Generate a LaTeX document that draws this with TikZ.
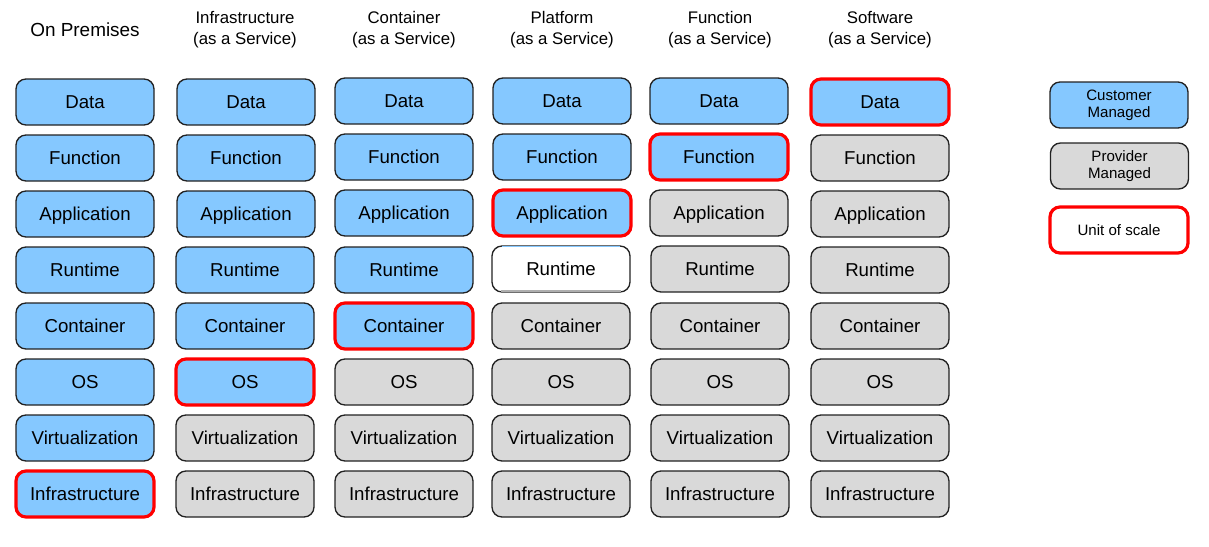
\documentclass[tikz,border=0pt]{standalone}
\usepackage{fontspec}
\setmainfont{Liberation Sans}
\definecolor{cust}{HTML}{85C8FF}
\definecolor{prov}{HTML}{D9D9D9}
\definecolor{edge}{HTML}{222222}
\definecolor{scalered}{HTML}{FF0000}
\tikzset{
  box/.style={draw=edge, line width=1pt, rounded corners=7.5pt, minimum width=103.5pt, minimum height=34.5pt, inner sep=0pt, text height=1.0em, text depth=0.05em, font=\fontsize{14}{16}\selectfont},
  cbox/.style={box, fill=cust},
  pbox/.style={box, fill=prov},
  wbox/.style={box, fill=white},
  unit/.style={draw=scalered, line width=2.4pt},
  title/.style={align=center, font=\fontsize{12.6}{16.2}\selectfont},
  legend/.style={draw=edge, line width=1pt, rounded corners=7.5pt, minimum width=103.5pt, minimum height=34.5pt, inner sep=0pt, align=center, font=\fontsize{11.3}{12.8}\selectfont}
}
\begin{document}
\begin{tikzpicture}[x=0.75pt,y=-0.75pt]
\useasboundingbox (0,0) rectangle (1209,546);
% titles
\node[title, font=\fontsize{14.2}{16}\selectfont] (t1) at (85,30) {On Premises};
\node[title] (t2) at (245,29.5) {Infrastructure\\(as a Service)};
\node[title] (t3) at (404,29.5) {Container\\(as a Service)};
\node[title] (t4) at (562,29.5) {Platform\\(as a Service)};
\node[title] (t5) at (720,29.5) {Function\\(as a Service)};
\node[title] (t6) at (880,29.5) {Software\\(as a Service)};
% column 1: On Premises
\node[cbox] (a1) at (85,102) {Data};
\node[cbox] (a2) at (85,158) {Function};
\node[cbox] (a3) at (85,214) {Application};
\node[cbox] (a4) at (85,270) {Runtime};
\node[cbox] (a5) at (85,326) {Container};
\node[cbox] (a6) at (85,382) {OS};
\node[cbox] (a7) at (85,438) {Virtualization};
\node[cbox,unit] (a8) at (85,494) {Infrastructure};
% column 2: IaaS
\node[cbox] (b1) at (246,102) {Data};
\node[cbox] (b2) at (246,158) {Function};
\node[cbox] (b3) at (246,214) {Application};
\node[cbox] (b4) at (245,270) {Runtime};
\node[cbox] (b5) at (245,326) {Container};
\node[cbox,unit] (b6) at (245,382) {OS};
\node[pbox] (b7) at (245,438) {Virtualization};
\node[pbox] (b8) at (245,494) {Infrastructure};
% column 3: CaaS
\node[cbox] (c1) at (404,101) {Data};
\node[cbox] (c2) at (404,157) {Function};
\node[cbox] (c3) at (404,213) {Application};
\node[cbox] (c4) at (404,270) {Runtime};
\node[cbox,unit] (c5) at (404,326) {Container};
\node[pbox] (c6) at (404,382) {OS};
\node[pbox] (c7) at (404,438) {Virtualization};
\node[pbox] (c8) at (404,494) {Infrastructure};
% column 4: PaaS
\node[cbox] (d1) at (562,101) {Data};
\node[cbox] (d2) at (562,157) {Function};
\node[cbox,unit] (d3) at (562,213) {Application};
\node[wbox] (d4) at (561,269) {Runtime};
\draw[cust, line width=1.2pt] ([xshift=8pt,yshift=-1pt]d4.north west) -- ([xshift=-8pt,yshift=-1pt]d4.north east);
\draw[prov!80!black, line width=1.5pt] ([xshift=7pt,yshift=1.2pt]d4.south west) -- ([xshift=-7pt,yshift=1.2pt]d4.south east);
\node[pbox] (d5) at (561,326) {Container};
\node[pbox] (d6) at (561,382) {OS};
\node[pbox] (d7) at (561,438) {Virtualization};
\node[pbox] (d8) at (561,494) {Infrastructure};
% column 5: FaaS
\node[cbox] (e1) at (719,101) {Data};
\node[cbox,unit] (e2) at (719,157) {Function};
\node[pbox] (e3) at (719,213) {Application};
\node[pbox] (e4) at (720,269) {Runtime};
\node[pbox] (e5) at (720,326) {Container};
\node[pbox] (e6) at (720,382) {OS};
\node[pbox] (e7) at (720,438) {Virtualization};
\node[pbox] (e8) at (720,494) {Infrastructure};
% column 6: SaaS
\node[cbox,unit] (f1) at (880,102) {Data};
\node[pbox] (f2) at (880,158) {Function};
\node[pbox] (f3) at (880,214) {Application};
\node[pbox] (f4) at (880,270) {Runtime};
\node[pbox] (f5) at (880,326) {Container};
\node[pbox] (f6) at (880,382) {OS};
\node[pbox] (f7) at (880,438) {Virtualization};
\node[pbox] (f8) at (880,494) {Infrastructure};
% legend
\node[legend, fill=cust] (l1) at (1119,105) {Customer\\Managed};
\node[legend, fill=prov] (l2) at (1119.5,166) {Provider\\Managed};
\node[legend, fill=white, unit] (l3) at (1119,230) {Unit of scale};
\end{tikzpicture}
\end{document}
